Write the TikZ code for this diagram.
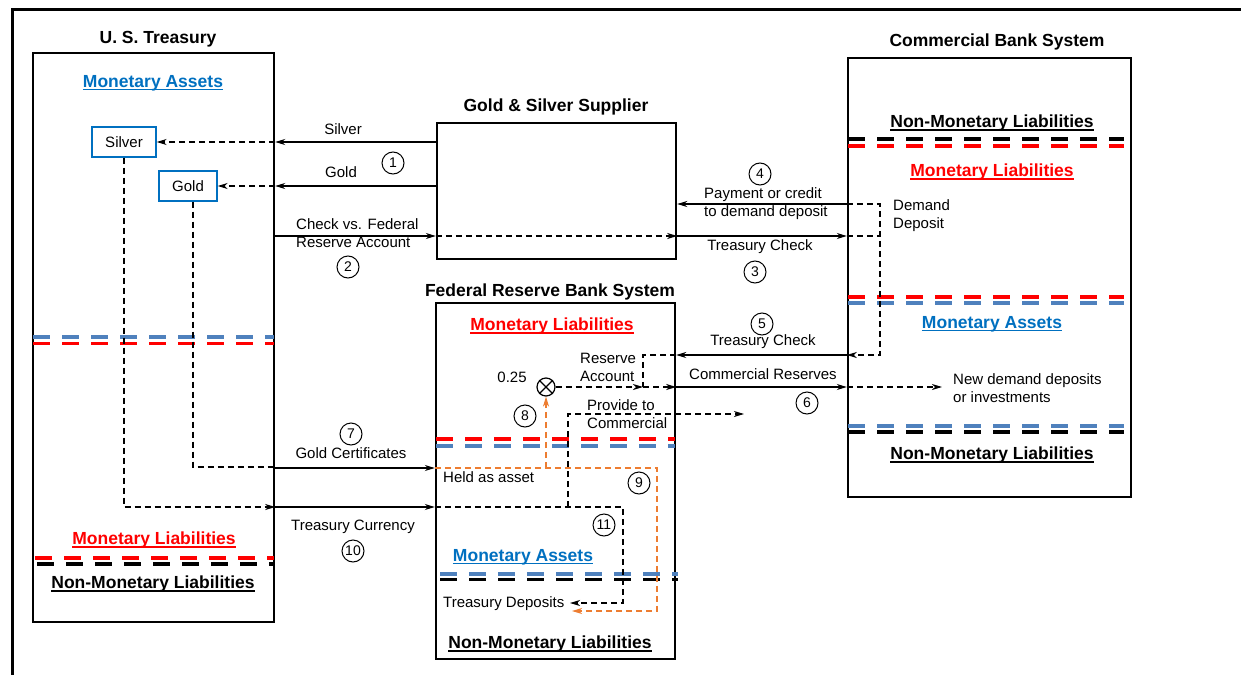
\documentclass[tikz,border=0pt]{standalone}
\usepackage{fontspec}
\setmainfont{Liberation Sans}
\usetikzlibrary{arrows.meta}
\definecolor{tblue}{RGB}{0,112,192}
\definecolor{dblue}{RGB}{79,129,189}
\definecolor{dred}{RGB}{255,0,0}
\definecolor{orng}{RGB}{237,125,49}
\newcommand{\ulx}[1]{\setbox0=\hbox{#1}\rlap{\rule[-3pt]{\wd0}{1.5pt}}\box0}
\tikzset{
  box/.style={draw, line width=2.4pt, inner sep=0pt},
  sbox/.style={draw=tblue, line width=1.4pt, inner sep=0pt, minimum height=30pt},
  lbl/.style={inner sep=0pt, font=\fontsize{15}{18}\selectfont},
  ttl/.style={inner sep=0pt, yshift=-2pt, font=\bfseries\fontsize{17.5}{20}\selectfont},
  num/.style={circle, draw, line width=1pt, minimum size=22pt, inner sep=0pt, font=\fontsize{14}{14}\selectfont},
  arr/.style={line width=1.2pt, -{Stealth[length=10pt,width=6pt,inset=3pt]}},
  darr/.style={arr, line width=1.1pt, dash pattern=on 6pt off 4pt},
  dln/.style={line width=1.1pt, dash pattern=on 6pt off 4pt},
  oarr/.style={darr, draw=orng},
  sepl/.style={line width=3.8pt, dash pattern=on 17pt off 12pt},
}
\begin{document}
\begin{tikzpicture}[x=1pt,y=-1pt]
\useasboundingbox (0,0) rectangle (1241,674);
\fill[white] (0,0) rectangle (1241,674);
% outer frame
\draw[line width=3pt] (1250,10) -- (12,10) -- (12,690);

% ---------- U.S. Treasury ----------
\node[ttl] (ttre) at (158,37) {U. S. Treasury};
\node[box, minimum width=241pt, minimum height=569pt] (tre) at (153.5,337.5) {};
\node[ttl, text=tblue] (tma) at (153,81) {\ulx{Monetary Assets}};
\node[sbox, minimum width=64pt, font=\fontsize{15}{18}\selectfont] (silver) at (124,142) {Silver};
\node[sbox, minimum width=58pt, font=\fontsize{15}{18}\selectfont] (gold) at (188,186) {Gold};
\draw[sepl, dblue] (33,337) -- (274,337);
\draw[sepl, dred] (33,343.5) -- (274,343.5);
\node[ttl, text=dred] (tml) at (154,538) {\ulx{Monetary Liabilities}};
\draw[sepl, dred] (35,558) -- (274,558);
\draw[sepl, black] (37,564) -- (274,564);
\node[ttl] (tnml) at (153,582) {\ulx{Non-Monetary Liabilities}};

% ---------- Supplier ----------
\node[ttl] (tsup) at (556,105) {Gold \& Silver Supplier};
\node[box, minimum width=239pt, minimum height=136pt] (sup) at (556.5,191) {};

% ---------- Federal Reserve ----------
\node[ttl] (tfed) at (550,290) {Federal Reserve Bank System};
\node[box, minimum width=239pt, minimum height=356pt] (fed) at (555.5,481) {};
\node[ttl, text=dred] (fml) at (552,324) {\ulx{Monetary Liabilities}};
\draw[sepl, dred] (436,439) -- (675,439);
\draw[sepl, dblue] (436,446) -- (675,446);
\node[ttl, text=tblue] (fma) at (523,555) {\ulx{Monetary Assets}};
\draw[sepl, dblue] (440,574) -- (678,574);
\draw[sepl, black] (440,579.5) -- (678,579.5);
\node[ttl] (fnml) at (550,642) {\ulx{Non-Monetary Liabilities}};
\node[circle, draw, line width=1.2pt, minimum size=18pt, inner sep=0pt] (mul) at (546,387) {};
\draw[line width=1.2pt] (mul.north west) -- (mul.south east) (mul.north east) -- (mul.south west);
\node[lbl] (q) at (512,377) {0.25};
\node[lbl, align=left, anchor=west] (resacc) at (580,367) {Reserve\\Account};
\node[lbl, align=left, anchor=west] (prov) at (587,414) {Provide to\\Commercial};
\node[lbl, anchor=west] (held) at (443,477) {Held as asset};
\node[lbl, anchor=west] (tdep) at (443,604) {Treasury Deposits};

% ---------- Commercial Bank ----------
\node[ttl] (tcb) at (997,40) {Commercial Bank System};
\node[box, minimum width=283pt, minimum height=439pt] (cb) at (989.5,277.5) {};
\node[ttl] (cnml) at (992,121) {\ulx{Non-Monetary Liabilities}};
\draw[sepl, black] (848,139) -- (1124,139);
\draw[sepl, dred] (848,146) -- (1124,146);
\node[ttl, text=dred] (cml) at (992,170) {\ulx{Monetary Liabilities}};
\node[lbl, align=left, anchor=west] (dem) at (893,216) {Demand\\Deposit};
\draw[sepl, dred] (848,297) -- (1124,297);
\draw[sepl, dblue] (848,303) -- (1124,303);
\node[ttl, text=tblue] (cma) at (992,322) {\ulx{Monetary Assets}};
\draw[sepl, dblue] (848,426) -- (1124,426);
\draw[sepl, black] (848,432) -- (1124,432);
\node[ttl] (cnml2) at (992,453) {\ulx{Non-Monetary Liabilities}};
\node[lbl, align=left, anchor=west] (newd) at (953,388) {New demand deposits\\or investments};

% ---------- labels & numbers ----------
\node[lbl] (lsil) at (343,129) {Silver};
\node[lbl] (lgold) at (341,172) {Gold};
\node[num] (n1) at (393,163) {1};
\node[lbl, align=left, anchor=west] (lchk) at (296,233) {Check vs. Federal\\Reserve Account};
\node[num] (n2) at (348,267) {2};
\node[num] (n4) at (760,174) {4};
\node[lbl, align=left, anchor=west] (lpay) at (704,204) {Payment or credit\\to demand deposit};
\node[lbl] (ltc1) at (760,247) {Treasury Check};
\node[num] (n3) at (755,272) {3};
\node[num] (n5) at (762,324) {5};
\node[lbl] (ltc2) at (763,342) {Treasury Check};
\node[lbl] (lcr) at (763,374) {Commercial Reserves};
\node[num] (n6) at (807,403) {6};
\node[num] (n8) at (525,416) {8};
\node[num] (n7) at (351,434) {7};
\node[lbl] (lgc) at (351,453) {Gold Certificates};
\node[num] (n9) at (639,483) {9};
\node[lbl] (ltcur) at (353,527) {Treasury Currency};
\node[num] (n10) at (353,551) {10};
\node[num] (n11) at (604,525) {11};

% ---------- coordinates ----------
\coordinate (ck) at (0,236);
\coordinate (dd) at (880,204);
\coordinate (tc) at (880,355);
\coordinate (ra) at (643,387);
\coordinate (nd) at (942,387);
\coordinate (pv) at (568,414);
\coordinate (pe) at (744,414);
\coordinate (gc) at (193,467);
\coordinate (gcy) at (0,468);
\coordinate (oc) at (657,468);
\coordinate (otd) at (572,611);
\coordinate (tcy) at (0,507);
\coordinate (tcx) at (623,507);
\coordinate (btd) at (570,603);

% ---------- connectors ----------
% 1
\draw[arr] (sup.west|-silver) -- (tre.east|-silver);
\draw[darr] (tre.east|-silver) -- (silver.east);
\draw[arr] (sup.west|-gold) -- (tre.east|-gold);
\draw[darr] (tre.east|-gold) -- (gold.east);
% 2,3
\draw[arr] (tre.east|-ck) -- (sup.west|-ck);
\draw[darr] (sup.west|-ck) -- (sup.east|-ck);
\draw[arr] (sup.east|-ck) -- (cb.west|-ck);
\draw[dln] (cb.west|-ck) -- (dd|-ck);
% 4
\draw[arr] (cb.west|-dd) -- (sup.east|-dd);
\draw[darr] (cb.west|-dd) -- (dd) -- (tc) -- (cb.west|-tc);
% 5
\draw[arr] (cb.west|-tc) -- (fed.east|-tc);
\draw[dln] (fed.east|-tc) -- (ra|-tc) -- (ra);
% 6
\draw[darr] (mul.east) -- (ra);
\draw[darr] (ra) -- (fed.east|-ra);
\draw[arr] (fed.east|-ra) -- (cb.west|-ra);
\draw[darr] (cb.west|-ra) -- (nd);
% provide to commercial
\draw[darr] (pv|-tcy) -- (pv) -- (pe);
% 7
\draw[dln] (gold.south-|gc) -- (gc) -- (tre.east|-gc);
\draw[arr] (tre.east|-gcy) -- (fed.west|-gcy);
% 8,9
\draw[oarr] (fed.west|-gcy) -- (oc) -- (oc|-otd) -- (otd);
\draw[oarr] (mul|-gcy) -- (mul.south);
% 10, 11
\draw[darr] (silver.south) -- (silver.south|-tcy) -- (tre.east|-tcy);
\draw[arr] (tre.east|-tcy) -- (fed.west|-tcy);
\draw[darr] (fed.west|-tcy) -- (tcx) -- (tcx|-btd) -- (btd);
\end{tikzpicture}
\end{document}
